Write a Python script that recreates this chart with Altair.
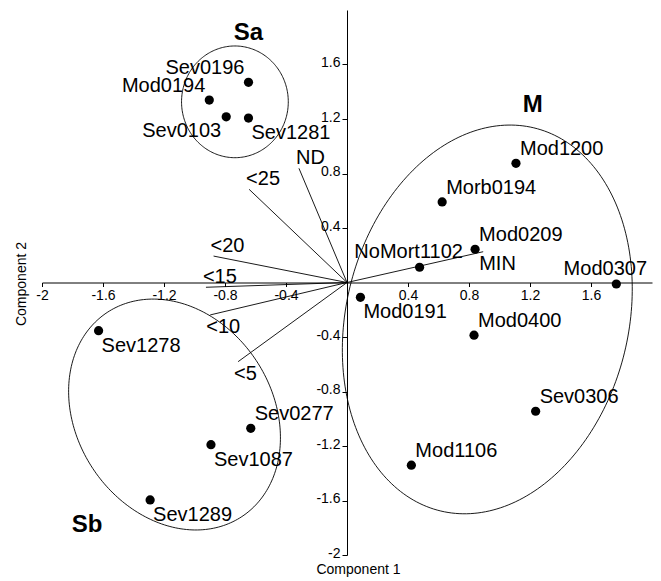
import altair as alt
import pandas as pd
import numpy as np

FONT = "Liberation Sans"

# ---- sample points (Component 1, Component 2) ----
point_names = ["Sev0196", "Mod0194", "Sev0103", "Sev1281",
               "Mod1200", "Morb0194", "Mod0209", "NoMort1102", "Mod0307",
               "Mod0191", "Mod0400", "Sev0306", "Mod1106",
               "Sev1278", "Sev0277", "Sev1087", "Sev1289"]
point_x = [-0.646, -0.903, -0.792, -0.646,
           1.108, 0.624, 0.840, 0.476, 1.766,
           0.088, 0.833, 1.237, 0.422,
           -1.629, -0.631, -0.892, -1.291]
point_y = [1.469, 1.339, 1.216, 1.207,
           0.875, 0.591, 0.244, 0.112, -0.011,
           -0.109, -0.387, -0.945, -1.341,
           -0.354, -1.070, -1.190, -1.596]
point_label_pos = ["nw", "nw", "sw", "se",
                   "ne", "ne", "ne", "n", "n",
                   "se", "ne", "ne", "ne",
                   "se", "ne", "se", "se"]

# ---- variable vectors ----
vector_names = ["ND", "<25", "<20", "<15", "<10", "<5", "MIN"]
vector_x = [-0.315, -0.642, -0.875, -0.925, -0.897, -0.714, 0.893]
vector_y = [0.838, 0.684, 0.194, -0.035, -0.238, -0.581, 0.226]
vector_label_pos = ["va", "va", "va", "va", "vb", "vb", "vb"]

# ---- groups (ellipses) ----
group_names = ["Sa", "M", "Sb"]
group_cx = [-0.735, 0.920, -1.131]
group_cy = [1.326, -0.271, -0.969]
group_major = [0.41, 1.44, 0.876]
group_minor = [0.35, 0.93, 0.658]
group_tilt = [0.0, -10.3, 22.6]
group_label_x = [-0.647, 1.218, -1.705]
group_label_y = [1.78, 1.254, -1.831]

# ---- axes ----
x_ticks = [-2, -1.6, -1.2, -0.8, -0.4, 0.4, 0.8, 1.2, 1.6]
y_ticks = [-2, -1.6, -1.2, -0.8, -0.4, 0.4, 0.8, 1.2, 1.6]
x_domain = [-2, 2]
y_domain = [-2, 2]

W, H = 610, 545
X_OFF = -(H / 2)          # x axis passes through y = 0
Y_OFF = -(W / 2)          # y axis passes through x = 0

points_df = pd.DataFrame({"name": point_names, "x": point_x, "y": point_y,
                          "pos": point_label_pos})
vectors_df = pd.DataFrame({"name": vector_names, "x": vector_x, "y": vector_y,
                           "pos": vector_label_pos})
groups_df = pd.DataFrame({"name": group_names, "x": group_label_x, "y": group_label_y})

rows = []
t = np.linspace(0, 2 * np.pi, 241)
for g, cx, cy, a, b, tilt in zip(group_names, group_cx, group_cy, group_major,
                                  group_minor, group_tilt):
    p = np.radians(tilt)
    ex = cx + a * np.sin(t) * (-np.sin(p)) + b * np.cos(t) * np.cos(p)
    ey = cy + a * np.sin(t) * np.cos(p) + b * np.cos(t) * np.sin(p)
    for i, (xx, yy) in enumerate(zip(ex, ey)):
        rows.append({"group": g, "i": i, "x": float(xx), "y": float(yy)})
ellipse_df = pd.DataFrame(rows)

x_axis = alt.Axis(values=x_ticks, offset=X_OFF, grid=False, tickSize=4,
                  labelPadding=2, labelFontSize=14, labelFont=FONT,
                  labelColor="black", domainColor="black", tickColor="black",
                  labelExpr="'' + datum.value", labelFlush=False,
                  labelOverlap=False,
                  title="Component 1", titleFont=FONT, titleFontSize=14,
                  titleFontWeight="normal", titleColor="black",
                  titleX=316, titleY=290.5, titleBaseline="alphabetic",
                  titleAlign="center")
y_axis = alt.Axis(values=y_ticks, offset=Y_OFF, grid=False, tickSize=5,
                  labelPadding=2, labelFontSize=14, labelFont=FONT,
                  labelColor="black", domainColor="black", tickColor="black",
                  labelExpr="'' + datum.value", labelFlush=False,
                  labelOverlap=False, labelBaseline="middle", labelOffset=-2,
                  title="Component 2", titleFont=FONT, titleFontSize=14,
                  titleFontWeight="normal", titleColor="black",
                  titleX=-319, titleY=H / 2 + 1, titleBaseline="bottom",
                  titleAlign="center")


def X(field="x"):
    return alt.X(f"{field}:Q", scale=alt.Scale(domain=x_domain, nice=False, zero=False),
                 axis=x_axis)


def Y(field="y"):
    return alt.Y(f"{field}:Q", scale=alt.Scale(domain=y_domain, nice=False, zero=False),
                 axis=y_axis)


ellipses = alt.Chart(ellipse_df).mark_line(color="black", strokeWidth=0.9).encode(
    x=X(), y=Y(), detail="group:N", order="i:Q")

vectors = alt.Chart(vectors_df).mark_rule(color="black", strokeWidth=0.9).encode(
    x=X(), y=Y(), x2=alt.datum(0), y2=alt.datum(0))

dots = alt.Chart(points_df).mark_circle(color="black", opacity=1, size=85).encode(
    x=X(), y=Y())

label_styles = {
    "ne": dict(align="left", dx=4, dy=-8),
    "nw": dict(align="right", dx=-4, dy=-8),
    "se": dict(align="left", dx=3, dy=21),
    "sw": dict(align="right", dx=-5, dy=20),
    "n": dict(align="center", dx=-11, dy=-9),
    "va": dict(align="left", dx=-3, dy=-4),
    "vb": dict(align="left", dx=-4, dy=18),
}

layers = [ellipses, vectors, dots]
for df in (points_df, vectors_df):
    for key, st in label_styles.items():
        if key not in set(df["pos"]):
            continue
        layers.append(
            alt.Chart(df).transform_filter(alt.datum.pos == key).mark_text(
                font=FONT, fontSize=20, color="black", baseline="alphabetic", **st
            ).encode(x=X(), y=Y(), text="name:N")
        )

group_text = alt.Chart(groups_df).mark_text(
    font=FONT, fontSize=24, fontWeight="bold", color="black",
    baseline="alphabetic", align="center"
).encode(x=X(), y=Y(), text="name:N")
layers.append(group_text)

chart = alt.layer(*layers).properties(
    width=W, height=H,
    background="white",
    autosize=alt.AutoSizeParams(type="none"),
    padding={"left": 34, "top": 2, "right": 1, "bottom": 22},
).configure_view(strokeWidth=0, stroke="transparent")

chart.save("out.html", embed_options={"renderer": "svg", "actions": False})
